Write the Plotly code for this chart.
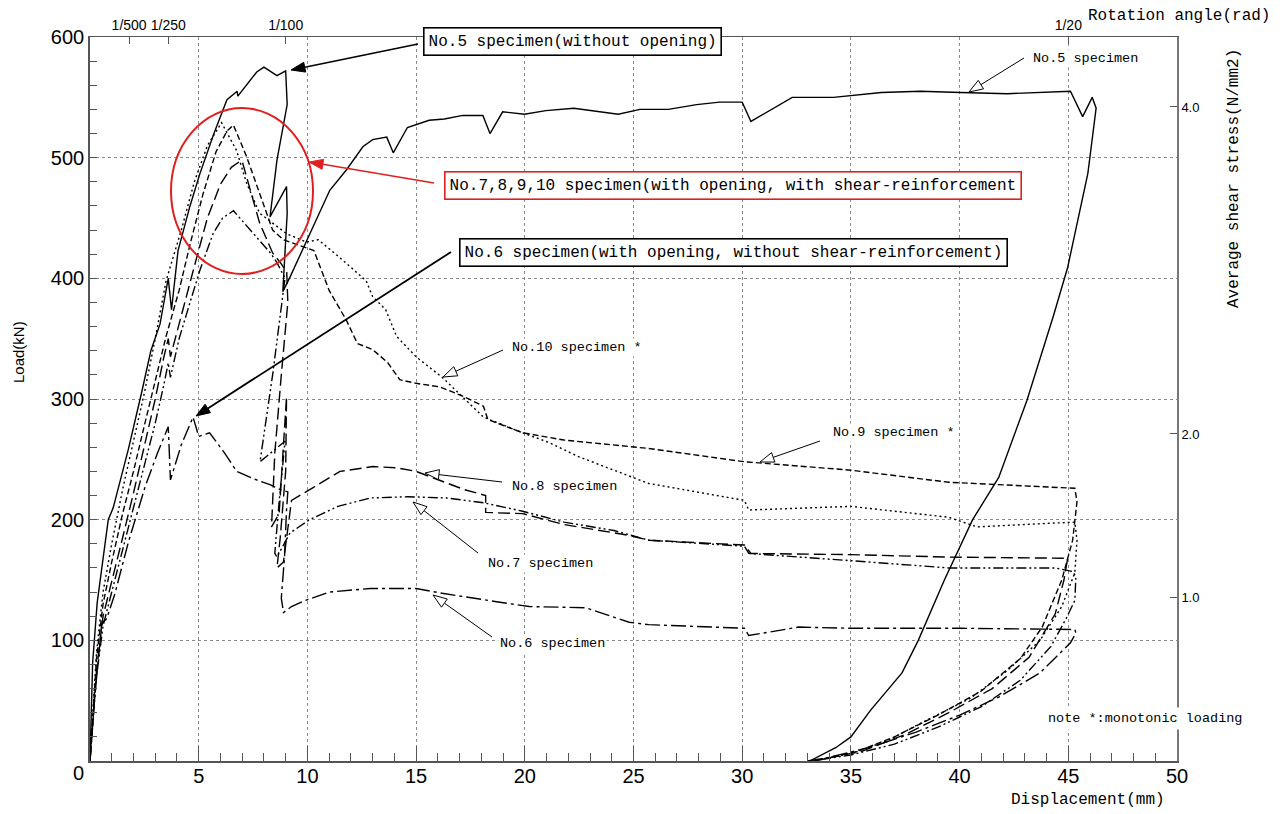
import math
import plotly.graph_objects as go

# ---------------- data (displacement mm, load kN) ----------------
x5 = [0, 0.12, 0.33, 0.84, 1.07, 1.76, 2.37, 2.8, 3.22, 3.6, 3.75, 4.05, 4.6, 5.06, 5.7, 6.3, 6.77, 6.8, 7.67, 8.0,
      8.6, 9.0, 9.07, 8.6, 8.28, 9.04, 9.07, 8.87, 9.2, 10.0, 11.03, 11.8, 12.55, 13.0, 13.65, 13.95, 14.6, 15.6, 16.3,
      17.15, 18.07, 18.4, 18.98, 19.98, 20.97, 22.25, 24.3, 25.3, 26.6, 27.9, 28.96, 30.0, 30.4, 32.3, 34.2, 36.4,
      38.2, 40.05, 42.2, 45.1, 45.66, 46.1, 46.28, 45.9, 44.97, 44.3, 43.4, 43.1, 41.8, 40.6, 39.3, 38.1, 37.35, 35.9,
      35.0, 34.3, 33.1]
y5 = [0, 81, 131, 200, 210, 258, 305, 340, 362, 400, 374, 423, 460, 487, 520, 548, 555, 551, 571, 575,
      568, 572, 544, 498, 451, 476, 454, 389, 401, 432, 473, 490, 509, 515, 517, 504, 525, 531, 532,
      535, 535, 520, 538, 536, 539, 541, 536, 540, 540, 544, 546, 546, 530, 550, 550, 554,
      555, 554, 553, 555, 534, 550, 541, 487, 409, 368, 316, 299, 235, 200, 150, 100, 73, 42,
      20, 11, 0]

x6 = [0, 0.2, 0.54, 0.77, 1.15, 1.76, 2.53, 3.1, 3.6, 3.7, 4.2, 4.74, 5.0, 5.5, 6.2, 6.75, 7.5, 8.28, 8.74, 9.1,
      9.04, 8.95, 8.8, 8.9, 9.27, 9.9, 11.0, 12.9, 15.0, 16.2, 18.7, 20.2, 22.8, 24.8, 25.7, 30.1, 30.3, 32.6, 35.0,
      40.1, 45.3, 45.35, 45.1, 43.7, 41.8, 40.0, 38.0, 36.0, 34.0, 33.0]
y6 = [0, 50, 114, 118, 139, 181, 227, 255, 277, 233, 262, 285, 269, 272, 255, 240, 234, 229, 225, 223,
      208, 170, 135, 123, 128, 133, 140, 143, 143, 139, 132, 128, 127, 115, 113, 110, 104, 111, 110,
      110, 109, 106, 98, 73, 53, 38, 24, 12, 3, 0]

x7 = [0, 0.3, 0.6, 1.0, 1.5, 2.0, 2.5, 3.0, 3.4, 3.6, 3.7, 4.1, 4.6, 5.06, 5.66, 6.1, 6.6, 7.36, 8.3, 8.6,
      8.97, 8.4, 7.82, 8.5, 8.97, 8.7, 8.5, 8.6, 9.2, 10.1, 11.4, 12.9, 14.6, 16.4, 18.1, 19.9, 21.8, 24.1, 25.7,
      30.1, 30.3, 35.0, 39.5, 44.4, 45.2, 45.35, 45.3, 44.9, 44.2, 42.8, 41.0, 39.0, 37.0, 35.0, 33.2]
y7 = [0, 70, 112, 140, 175, 210, 245, 280, 312, 330, 318, 350, 380, 407, 437, 450, 456, 440, 421, 413,
      400, 320, 248, 258, 265, 215, 172, 169, 189, 200, 211, 218, 219, 218, 214, 207, 198, 191, 183,
      178, 172, 166, 160, 160, 157, 153, 133, 118, 95, 67, 45, 28, 14, 5, 0]

x8 = [0, 0.3, 0.6, 1.0, 1.5, 2.0, 2.5, 3.0, 3.4, 3.6, 3.7, 4.2, 4.8, 5.4, 6.0, 6.5, 6.9, 7.0, 7.36, 7.8,
      8.4, 8.8, 9.05, 9.1, 8.8, 8.5, 8.35, 8.7, 9.04, 9.0, 8.75, 8.6, 8.9, 9.27, 10.3, 11.5, 13.0, 14.1, 15.0,
      15.6, 17.2, 18.2, 18.2, 19.9, 21.8, 24.8, 25.7, 30.1, 30.4, 35.0, 39.5, 44.97, 44.8, 44.4, 43.2, 41.5,
      39.5, 37.5, 35.5, 33.3]
y8 = [0, 75, 120, 148, 185, 222, 260, 300, 335, 350, 335, 370, 410, 450, 478, 492, 497, 497, 473, 446,
      421, 412, 405, 380, 320, 255, 194, 205, 302, 240, 185, 160, 165, 216, 227, 240, 244, 243, 240,
      236, 225, 220, 206, 205, 196, 187, 183, 179, 172, 171, 169, 168, 150, 122, 86, 60,
      40, 22, 8, 0]

x9 = [0, 0.3, 0.6, 1.0, 1.5, 2.0, 2.5, 3.0, 3.5, 4.1, 4.6, 5.2, 5.8, 6.3, 6.6, 7.2, 7.8, 8.4, 8.9, 9.5,
      10.3, 11.0, 11.8, 12.3, 13.0, 13.7, 14.25, 15.0, 16.1, 17.2, 18.1, 18.3, 19.9, 21.8, 25.7, 30.1, 35.0,
      39.5, 45.3, 45.4, 45.2, 44.7, 43.8, 42.8, 41.0, 39.0, 37.0, 35.3, 33.3]
y9 = [0, 85, 130, 165, 205, 240, 278, 315, 352, 390, 428, 470, 505, 522, 527, 501, 470, 440, 432, 428,
      423, 390, 365, 346, 341, 330, 316, 313, 310, 302, 294, 283, 272, 266, 259, 248, 241,
      231, 226, 215, 183, 150, 111, 85, 58, 38, 20, 8, 0]

x10 = [0, 0.3, 0.6, 1.0, 1.5, 2.0, 2.5, 3.0, 3.5, 4.2, 4.8, 5.4, 6.05, 6.74, 7.2, 7.8, 8.6, 9.04, 9.96, 10.5,
       11.5, 12.7, 13.0, 13.6, 14.1, 15.0, 16.2, 17.3, 18.1, 19.9, 21.1, 22.5, 24.1, 25.7, 30.1, 30.3, 35.0,
       39.5, 40.8, 45.05, 45.3, 45.4, 45.3, 44.7, 43.7, 42.2, 40.5, 38.5, 36.7, 35.0, 33.1]
y10 = [0, 90, 140, 180, 225, 265, 305, 350, 398, 440, 480, 510, 529, 506, 479, 454, 443, 437, 430, 432,
       417, 398, 385, 374, 352, 335, 318, 299, 285, 272, 264, 252, 241, 230, 216, 208, 211,
       202, 194, 198, 198, 183, 156, 128, 100, 75, 52, 34, 17, 6, 0]

# rotation angle ticks (top axis, placed at displacement mm) and stress ticks (right axis)
rot_pos = [1.8, 3.6, 9.0, 45.0]
rot_text = ["1/500", "1/250", "1/100", "1/20"]
stress_ticks = [1.0, 2.0, 4.0]
stress_text = ["1.0", "2.0", "4.0"]
STRESS_PER_KN = 1 / 135.5

series = [
    ("No.5", x5, y5, "solid"),
    ("No.6", x6, y6, "15px,4px,3px,4px"),
    ("No.7", x7, y7, "10px,3px,2px,3px,2px,3px"),
    ("No.8", x8, y8, "12px,5px"),
    ("No.9", x9, y9, "6px,3px"),
    ("No.10", x10, y10, "2px,3px"),
]

# ---------------- figure ----------------
W, H = 1283, 814
PL, PR, PT, PB = 90, 1177, 37, 761  # plot area in pixels
XMAX, YMAX = 50, 600


def px2x(px):
    return (px - PL) / (PR - PL) * XMAX


def py2y(py):
    return (PB - py) / (PB - PT) * YMAX


def px2paper(px):
    return (px - PL) / (PR - PL)


def py2paper(py):
    return (PB - py) / (PB - PT)


fig = go.Figure()
for name, xs, ys, dash in series:
    fig.add_trace(go.Scatter(x=xs, y=ys, mode="lines", name=name,
                             line=dict(color="black", width=1.4, dash=dash),
                             showlegend=False, hoverinfo="skip"))

# invisible helpers so that secondary axes are drawn
fig.add_trace(go.Scatter(x=[0], y=[0], xaxis="x2", yaxis="y", mode="markers",
                         marker=dict(opacity=0), showlegend=False, hoverinfo="skip"))
fig.add_trace(go.Scatter(x=[0], y=[0], xaxis="x", yaxis="y2", mode="markers",
                         marker=dict(opacity=0), showlegend=False, hoverinfo="skip"))

GRID = "#8a8a8a"
AX = "#555555"
SANS = "Liberation Sans, Arial, sans-serif"
MONO = "Liberation Mono, DejaVu Sans Mono, monospace"

fig.update_layout(
    width=W, height=H,
    margin=dict(l=PL, r=W - PR, t=PT, b=H - PB, pad=0, autoexpand=False),
    paper_bgcolor="white", plot_bgcolor="white",
    showlegend=False,
    xaxis=dict(range=[0, XMAX], tickvals=list(range(5, 51, 5)), ticks="inside", ticklen=15,
               tickcolor=AX, tickwidth=1.2, automargin=False, tickangle=0,
               minor=dict(dtick=1, ticks="inside", ticklen=8, tickcolor=AX, showgrid=False),
               showgrid=True, gridcolor=GRID, griddash="dot", gridwidth=1,
               showline=True, linecolor=AX, linewidth=1.6, zeroline=False,
               ticklabelstandoff=-4,
               tickfont=dict(family=SANS, size=20, color="black")),
    xaxis2=dict(range=[0, XMAX], overlaying="x", side="top", tickvals=rot_pos, ticktext=rot_text,
                ticks="inside", ticklen=7, tickcolor=AX, showgrid=False, zeroline=False,
                automargin=False, tickangle=0,
                showline=True, linecolor=AX, linewidth=1.4,
                tickfont=dict(family=SANS, size=14, color="black")),
    yaxis=dict(range=[0, YMAX], tickvals=list(range(100, 601, 100)), ticks="inside", ticklen=7,
               tickcolor=AX, tickwidth=1.2, automargin=False,
               minor=dict(dtick=20, ticks="inside", ticklen=7, tickcolor=AX, showgrid=False),
               showgrid=True, gridcolor=GRID, griddash="dot", gridwidth=1,
               showline=True, linecolor=AX, linewidth=1.6, zeroline=False,
               tickfont=dict(family=SANS, size=20, color="black")),
    yaxis2=dict(range=[0, YMAX * STRESS_PER_KN], overlaying="y", side="right",
                tickvals=stress_ticks, ticktext=stress_text, ticks="inside", ticklen=7,
                tickcolor=AX, showgrid=False, zeroline=False, automargin=False,
                showline=True, linecolor="#777777", linewidth=1.6,
                tickfont=dict(family=SANS, size=13, color="black")),
)

shapes = []
annotations = []

# red circle
shapes.append(dict(type="circle", xref="x", yref="y", x0=px2x(171), x1=px2x(313),
                   y0=py2y(274), y1=py2y(108), line=dict(color="#e02020", width=2)))


def arrow(tail, head, color="black", filled=True, hl=14, hw=5, lw=1.5):
    tx, ty = tail
    hx, hy = head
    dx, dy = hx - tx, hy - ty
    d = math.hypot(dx, dy)
    ux, uy = dx / d, dy / d
    bx, by = hx - ux * hl, hy - uy * hl
    nx, ny = -uy, ux
    p1 = (bx + nx * hw, by + ny * hw)
    p2 = (bx - nx * hw, by - ny * hw)
    shapes.append(dict(type="line", xref="x", yref="y", x0=px2x(tx), y0=py2y(ty),
                       x1=px2x(bx), y1=py2y(by), line=dict(color=color, width=lw)))
    path = "M {},{} L {},{} L {},{} Z".format(px2x(hx), py2y(hy), px2x(p1[0]), py2y(p1[1]),
                                              px2x(p2[0]), py2y(p2[1]))
    shapes.append(dict(type="path", xref="x", yref="y", path=path,
                       fillcolor=color if filled else "white",
                       line=dict(color=color, width=1)))


# boxed labels with filled arrows
arrow((418, 44), (291, 70), "black", True, lw=1.6)
arrow((434, 183), (309, 162), "#e02020", True, lw=1.6)
arrow((451, 252), (196, 416), "black", True, lw=1.8)
# small labels with hollow arrows
arrow((1024, 58), (969, 92), "black", False, lw=1)
arrow((503, 350), (443, 377), "black", False, lw=1)
arrow((820, 441), (760, 462), "black", False, lw=1)
arrow((502, 482), (425, 473), "black", False, lw=1)
arrow((478, 553), (413, 502), "black", False, lw=1)
arrow((492, 637), (433, 595), "black", False, lw=1)


def label(text, cx, cy, size, family=MONO, border=None, angle=0, bg="white", pad=1, bw=1.6):
    a = dict(text=text, x=px2paper(cx), y=py2paper(cy), xref="paper", yref="paper",
             xanchor="center", yanchor="middle", showarrow=False, textangle=angle,
             font=dict(family=family, size=size, color="black"), borderpad=pad)
    if bg:
        a["bgcolor"] = bg
    if border:
        a.update(bordercolor=border, borderwidth=bw)
    annotations.append(a)


label("No.5 specimen(without opening)", 572, 42, 16, border="black", pad=4)
label("No.7,8,9,10 specimen(with opening, with shear-reinforcement", 733, 185, 16,
      border="#e02020", pad=4)
label("No.6 specimen(with opening, without shear-reinforcement)", 733, 252, 16,
      border="black", pad=4)
label("No.5 specimen", 1085, 58, 13.5)
label("No.10 specimen *", 577, 347, 13.5)
label("No.9 specimen *", 894, 432, 13.5)
label("No.8 specimen", 564, 486, 13.5)
label("No.7 specimen", 540, 563, 13.5)
label("No.6 specimen", 552, 643, 13.5)
label("note *:monotonic loading", 1145, 718, 13.5, pad=3)
label("Rotation angle(rad)", 1179, 16, 16, bg=None)
label("Average shear stress(N/mm2)", 1234, 179, 16, angle=-90, bg=None)
label("Displacement(mm)", 1088, 800, 16, bg=None)
label("Load(kN)", 18, 352, 15, family=SANS, angle=-90, bg=None)
label("0", 78, 773, 20, family=SANS, bg=None)

fig.update_layout(shapes=shapes, annotations=annotations)

fig.write_html("out.html", config={"displayModeBar": False},
               post_script="document.body.style.margin='0';")
